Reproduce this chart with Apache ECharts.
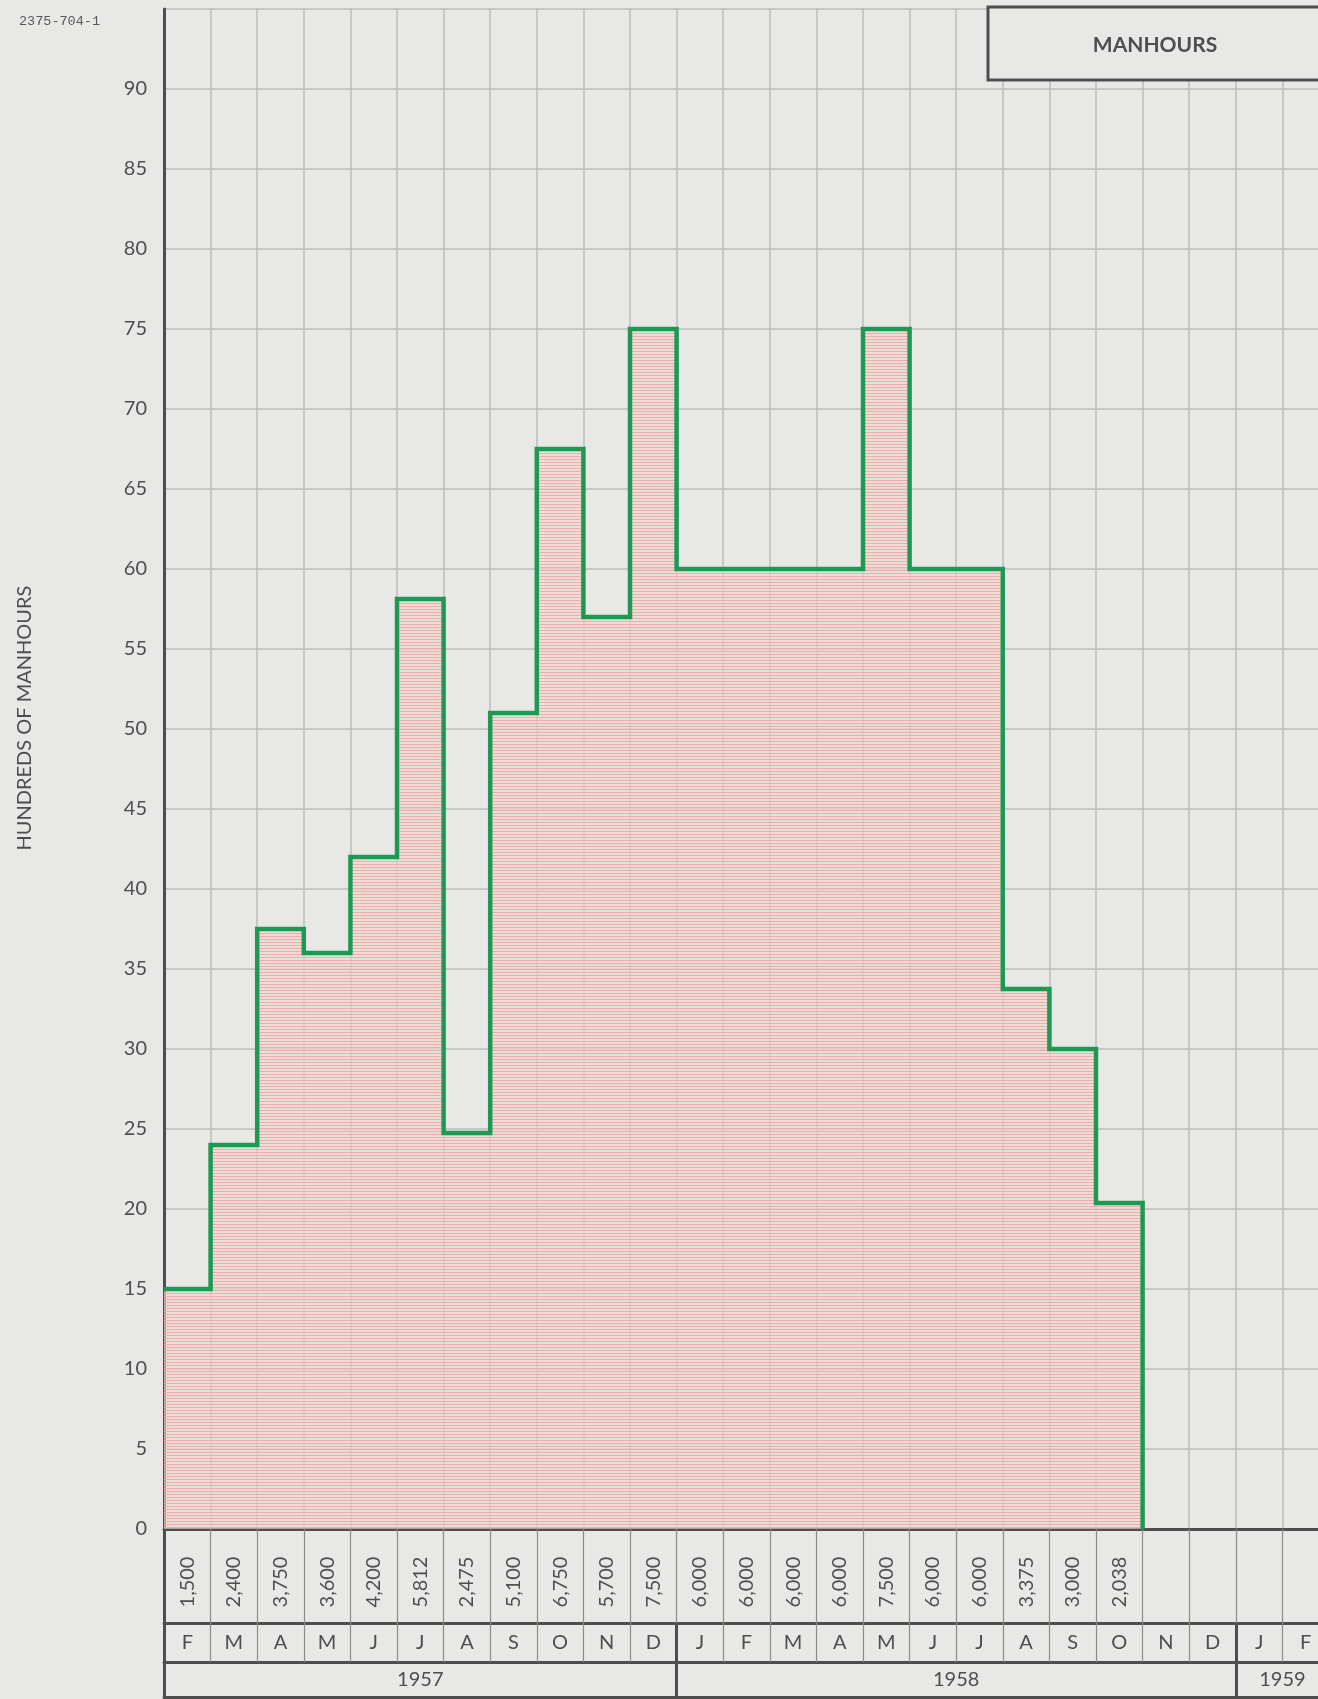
<!DOCTYPE html>
<html>
<head>
<meta charset="utf-8">
<script src="https://cdn.jsdelivr.net/npm/echarts@6/dist/echarts.min.js"></script>
<style>
  html, body { margin: 0; padding: 0; background: #e8e8e6; overflow: hidden; }
  #chart { width: 1340px; height: 1699px; }
</style>
</head>
<body>
<div id="chart"></div>
<script>
// Monthly labour schedule, Feb 1957 .. Feb 1959
const MONTHS = ['F','M','A','M','J','J','A','S','O','N','D',
                'J','F','M','A','M','J','J','A','S','O','N','D',
                'J','F'];
// Manhours per month (Feb 1957 .. Oct 1958)
const MANHOURS = [1500, 2400, 3750, 3600, 4200, 5812, 2475, 5100, 6750, 5700, 7500,
                  6000, 6000, 6000, 6000, 7500, 6000, 6000, 3375, 3000, 2038];
// Year bands as [first month index, end month index)
const YEARS = ['1957', '1958', '1959'];
const YEAR_SPANS = [[0, 11], [11, 23], [23, 25]];
// Vertical scale, hundreds of manhours
const Y_MIN = 0, Y_MAX = 95, Y_STEP = 5, Y_LAST_LABEL = 90;

const INK = '#4e4e4e';
const GRIDC = '#bdbdbb';
const PAPER = '#e8e8e6';
const GREEN = '#1f9853';
const FONT = 'Lato, "Noto Sans", sans-serif';

const nCols = MONTHS.length;
const stepData = MANHOURS.map((v, i) => [i, v / 100]);
stepData.push([MANHOURS.length, 0]);

const valueLabels = MONTHS.map((m, i) =>
  i < MANHOURS.length ? MANHOURS[i].toLocaleString('en-US') : '');
const yearMids = YEAR_SPANS.map(s => (s[0] + s[1]) / 2);
const yearBreaks = YEAR_SPANS.slice(1).map(s => s[0]);

// horizontal pink hatching for the filled area
const hatch = document.createElement('canvas');
hatch.width = 4; hatch.height = 3;
const hctx = hatch.getContext('2d');
hctx.fillStyle = 'rgba(240,212,207,0.6)';
hctx.fillRect(0, 0, 4, 3);
hctx.fillStyle = '#eab0a8';
hctx.fillRect(0, 0, 4, 1);

const chart = echarts.init(document.getElementById('chart'), null, { renderer: 'canvas' });

const colW = 46.6;
const option = {
  backgroundColor: PAPER,
  animation: false,
  grid: { left: 164, top: 9, width: colW * nCols, height: 1520 },
  xAxis: [
    { // month grid
      type: 'value', min: 0, max: nCols, interval: 1, position: 'bottom',
      axisLine: { show: false }, axisTick: { show: false }, axisLabel: { show: false },
      splitLine: { show: true, lineStyle: { color: GRIDC, width: 1.5 } }
    },
    { // value row
      type: 'category', data: valueLabels, position: 'bottom', offset: 0,
      axisLine: { show: true, lineStyle: { color: INK, width: 3 } },
      axisTick: { show: true, length: 94, lineStyle: { color: '#8a8a88', width: 1.2 } },
      axisLabel: { interval: 0, rotate: 90, align: 'center', verticalAlign: 'middle',
                   margin: 53, fontSize: 20, color: INK, fontFamily: FONT }
    },
    { // month row
      type: 'category', data: MONTHS, position: 'bottom', offset: 94,
      axisLine: { show: true, lineStyle: { color: INK, width: 3 } },
      axisTick: { show: true, length: 39, lineStyle: { color: '#8a8a88', width: 1.2 } },
      axisLabel: { interval: 0, verticalAlign: 'middle', margin: 20,
                   fontSize: 20, color: INK, fontFamily: FONT }
    },
    { // year row
      type: 'value', min: 0, max: nCols, position: 'bottom', offset: 133,
      axisLine: { show: true, lineStyle: { color: INK, width: 3 } },
      axisTick: { show: false },
      axisLabel: { customValues: yearMids, verticalAlign: 'middle', margin: 18,
                   fontSize: 20, color: INK, fontFamily: FONT,
                   formatter: v => YEARS[yearMids.indexOf(v)] },
      splitLine: { show: false }
    },
    { // year dividers through month and year rows
      type: 'value', min: 0, max: nCols, position: 'bottom', offset: 94,
      axisLine: { show: false }, axisLabel: { show: false }, splitLine: { show: false },
      axisTick: { show: true, customValues: yearBreaks, length: 74,
                  lineStyle: { color: INK, width: 3 } }
    },
    { // left edge and bottom rule of the table
      type: 'value', min: 0, max: nCols, position: 'bottom', offset: 168,
      axisLine: { show: true, lineStyle: { color: INK, width: 3 } },
      axisLabel: { show: false }, splitLine: { show: false },
      axisTick: { show: true, inside: true, customValues: [0], length: 170,
                  lineStyle: { color: INK, width: 3 } }
    }
  ],
  yAxis: {
    type: 'value', min: Y_MIN, max: Y_MAX, interval: Y_STEP,
    axisLine: { show: true, lineStyle: { color: INK, width: 3 } },
    axisTick: { show: false },
    axisLabel: { margin: 17, fontSize: 20, color: INK, fontFamily: FONT,
                 formatter: v => (v <= Y_LAST_LABEL ? String(v) : '') },
    splitLine: { show: true, lineStyle: { color: GRIDC, width: 1.5 } }
  },
  series: [{
    type: 'line', xAxisIndex: 0, yAxisIndex: 0, step: 'end',
    data: stepData, showSymbol: false, symbol: 'none',
    lineStyle: { color: GREEN, width: 4.5, join: 'miter' },
    areaStyle: { color: { image: hatch, repeat: 'repeat' }, opacity: 1, origin: 'start' },
    z: 3
  }],
  graphic: [
    { type: 'text', left: 19, top: 14, z: 10,
      style: { text: '2375-704-1', font: '13.5px "Liberation Mono", monospace', fill: '#5a5a5a' } },
    { type: 'text', x: 25, y: 718, rotation: Math.PI / 2, z: 10,
      style: { text: 'HUNDREDS OF MANHOURS', font: '20px ' + FONT, fill: INK,
               align: 'center', verticalAlign: 'middle' } },
    { type: 'rect', shape: { x: 988, y: 7, width: 400, height: 73 }, z: 10,
      style: { fill: PAPER, stroke: INK, lineWidth: 3 } },
    { type: 'text', x: 1155, y: 45, z: 11,
      style: { text: 'MANHOURS', font: 'bold 21px ' + FONT, fill: INK,
               align: 'center', verticalAlign: 'middle' } }
  ]
};

chart.setOption(option);
</script>
</body>
</html>
